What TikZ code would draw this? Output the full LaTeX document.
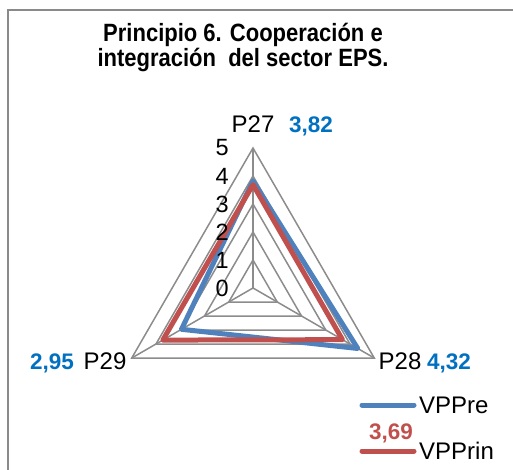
\documentclass[tikz,border=0pt]{standalone}
\usepackage{fontspec}
\setmainfont{Liberation Sans}
\newfontfamily\titlefont[FakeStretch=0.88]{Liberation Sans}
\definecolor{gridgray}{HTML}{8C8C8C}
\definecolor{framegray}{HTML}{8A8A8A}
\definecolor{serblue}{HTML}{4F81BD}
\definecolor{serred}{HTML}{C0504D}
\definecolor{lblblue}{HTML}{0070C0}
\begin{document}
\begin{tikzpicture}[x=1pt,y=-1pt,
  gridline/.style={draw=gridgray,line width=1.5pt},
  serline/.style={line width=5pt,line join=round,line cap=round},
  titlelbl/.style={font=\titlefont\fontsize{25}{27}\selectfont\bfseries,inner sep=0pt,anchor=base},
  axlbl/.style={font=\fontsize{24}{26}\selectfont,inner sep=0pt,anchor=base},
  vallbl/.style={font=\fontsize{22.5}{24}\selectfont\bfseries,inner sep=0pt,anchor=base},
  ticklbl/.style={font=\fontsize{23.5}{25}\selectfont,inner sep=0pt,anchor=east},
  leglbl/.style={font=\fontsize{24}{26}\selectfont,inner sep=0pt,anchor=base west}]
\useasboundingbox (0,0) rectangle (513,470);
% frame
\draw[framegray,line width=2.5pt] (8,471) -- (8,10) -- (514,10);
% title
\node[titlelbl] (title1) at (243,42) {Principio 6. Cooperación e};
\node[titlelbl] (title2) at (243,67) {integración\ \ del sector EPS.};
% chart
\begin{scope}[shift={(253,288)},yscale=-1]
  \coordinate (O) at (0,0);
  \foreach \k in {1,...,5}{
    \draw[gridline] (90:{28*\k}) -- (-30:{28*\k}) -- (210:{28*\k}) -- cycle;
  }
  \coordinate (A27) at (90:140);
  \coordinate (A28) at (-30:140);
  \coordinate (A29) at (210:140);
  \draw[gridline] (O) -- (A27);
  \draw[gridline] (O) -- (A28);
  \draw[gridline] (O) -- (A29);
  \coordinate (b27) at (90:{28*3.82});
  \coordinate (b28) at (-30:{28*4.32});
  \coordinate (b29) at (210:{28*2.95});
  \coordinate (r27) at (90:{28*3.69});
  \coordinate (r28) at (-30:{28*3.69});
  \coordinate (r29) at (210:{28*3.72});
  \draw[serline,serblue] (b27) -- (b28) -- (b29) -- cycle;
  \draw[serline,serred] (r27) -- (r28) -- (r29) -- cycle;
\end{scope}
% tick labels
\foreach \k in {0,...,5}{
  \node[ticklbl] (t\k) at (229,{288-28*\k}) {\k};
}
% axis labels
\node[axlbl] (p27) at (253,133) {P27};
\node[vallbl,text=lblblue] (v27) at (311,133) {3,82};
\node[axlbl] (p28) at (400,369) {P28};
\node[vallbl,text=lblblue] (v28) at (449,369) {4,32};
\node[axlbl] (p29) at (105,369) {P29};
\node[vallbl,text=lblblue] (v29) at (52,369) {2,95};
% legend
\coordinate (lb1) at (362,405);
\coordinate (lb2) at (414,405);
\coordinate (lr1) at (362,451);
\coordinate (lr2) at (414,451);
\draw[serblue,line width=5pt,line cap=round] (lb1) -- (lb2);
\draw[serred,line width=5pt,line cap=round] (lr1) -- (lr2);
\node[leglbl] (lgb) at (419,413) {VPPre};
\node[leglbl] (lgr) at (419,459) {VPPrin};
\node[vallbl,text=serred] (v69) at (391,439) {3,69};
\end{tikzpicture}
\end{document}
